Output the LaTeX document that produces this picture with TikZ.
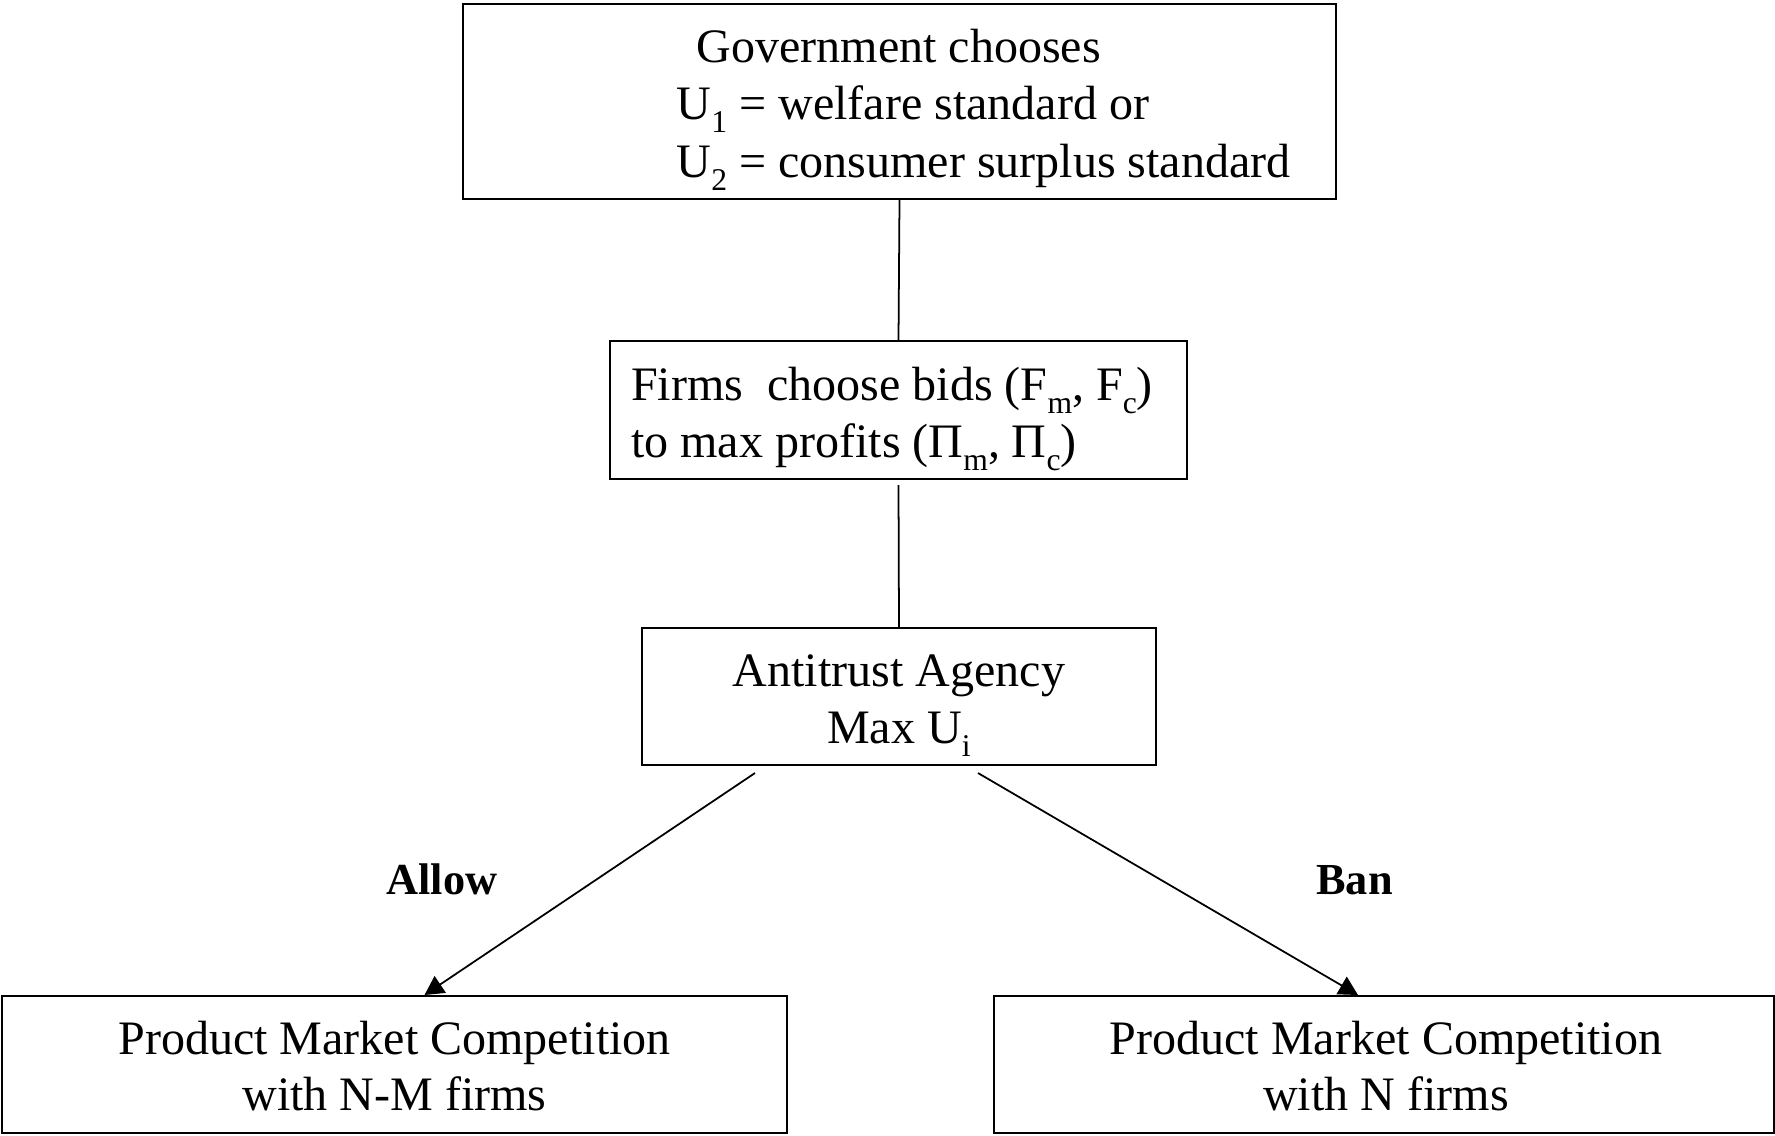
\documentclass[tikz,border=0pt]{standalone}
\usepackage{fontspec}
\setmainfont{Liberation Serif}
\usetikzlibrary{arrows.meta,calc}
\newcommand\lowsub[1]{\raisebox{-0.28em}{\fontsize{9pt}{9pt}\selectfont #1}}
\begin{document}
\begin{tikzpicture}[x=0.01cm,y=-0.01cm,
  box/.style={draw,line width=0.55pt,rectangle,inner sep=0pt},
  txt/.style={inner sep=0pt,font=\fontsize{13.66pt}{16.5pt}\selectfont},
  lbl/.style={inner sep=0pt,font=\fontsize{12.6pt}{15pt}\selectfont\bfseries},
  conn/.style={line width=0.5pt},
  arr/.style={line width=0.5pt,-{Triangle[length=0.19cm,width=0.2cm]}}]
\useasboundingbox (0,0) rectangle (1775,1135);
% boxes
\node[box,minimum width=8.73cm,minimum height=1.945cm] (gov) at (899.5,101.75) {};
\node[box,minimum width=5.77cm,minimum height=1.38cm] (firms) at (898.5,410) {};
\node[box,minimum width=5.14cm,minimum height=1.37cm] (anti) at (899,696.5) {};
\node[box,minimum width=7.85cm,minimum height=1.37cm] (nm) at (394.5,1064.5) {};
\node[box,minimum width=7.80cm,minimum height=1.37cm] (n) at (1384,1064.5) {};
% texts
\node[txt,anchor=base west] (g1) at (696,62) {Government chooses};
\node[txt,anchor=base west] (g2) at (676,119) {U\lowsub{1} = welfare standard or};
\node[txt,anchor=base west] (g3) at (676,177) {U\lowsub{2} = consumer surplus standard};
\node[txt,anchor=base west] (f1) at (630.5,400) {Firms\ \ choose bids (F\lowsub{m}, F\lowsub{c})};
\node[txt,anchor=base west] (f2) at (630.5,457) {to max profits (Π\lowsub{m}, Π\lowsub{c})};
\node[txt,anchor=base] (a1) at (899,686) {Antitrust Agency};
\node[txt,anchor=base] (a2) at (899,743) {Max U\lowsub{i}};
\node[txt,anchor=base] (l1) at (394.5,1054) {Product Market Competition};
\node[txt,anchor=base] (l2) at (394.5,1110) {with N-M firms};
\node[txt,anchor=base] (r1) at (1386,1054) {Product Market Competition};
\node[txt,anchor=base] (r2) at (1386,1110) {with N firms};
\node[lbl,anchor=base] (allow) at (442,894) {Allow};
\node[lbl,anchor=base] (ban) at (1354.5,894) {Ban};
% connectors
\coordinate (s1) at ($(anti.south)+(-144,7)$);
\coordinate (s2) at ($(anti.south)+(79,7)$);
\coordinate (e1) at ($(nm.north)+(30,0)$);
\coordinate (e2) at ($(n.north)+(-26,0)$);
\draw[conn] (gov.south) -- (firms.north);
\draw[conn] ($(firms.south)+(0,5)$) -- (anti.north);
\draw[arr] (s1) -- (e1);
\draw[arr] (s2) -- (e2);
\end{tikzpicture}
\end{document}
